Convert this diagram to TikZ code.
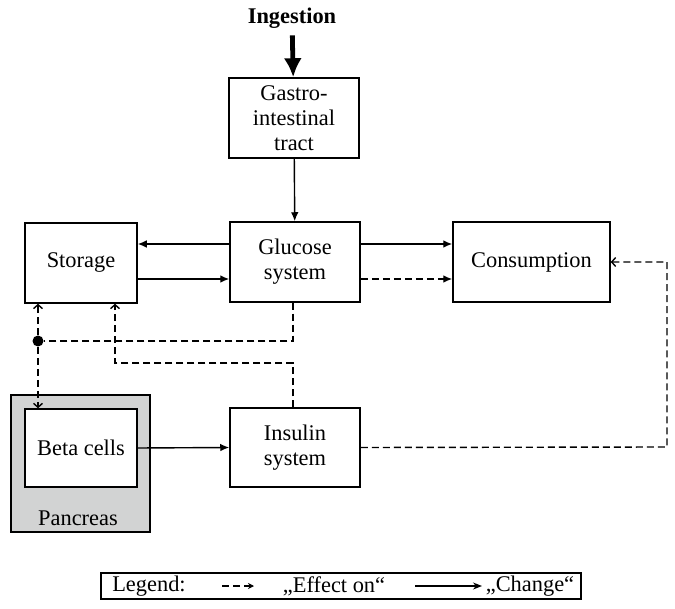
\documentclass[tikz,border=0pt]{standalone}
\usepackage{fontspec}
\setmainfont{Liberation Serif}
\usetikzlibrary{arrows.meta}
\definecolor{pancreasgray}{RGB}{210,211,211}
\tikzset{>={Latex[length=4.5pt,width=3.8pt]}}

\begin{document}
\begin{tikzpicture}[
    x=0.5pt, y=-0.5pt,
    every node/.style={font=\fontsize{11.2}{12.5}\selectfont, align=center},
    box/.style={draw, line width=0.75pt, inner sep=0pt, fill=white},
    change/.style={->, line width=0.7pt},
    effect/.style={line width=0.7pt, dash pattern=on 3.5pt off 2pt},
    effectto/.style={effect, -{Straight Barb[length=2pt,width=4.5pt]}}
]
    \useasboundingbox (0,0) rectangle (675,609);

    % Nodes
    \node (Ingestion) at (292,18) {\textbf{Ingestion}};
    \node[box, minimum width=65pt, minimum height=40pt] (Gastro) at (294,118) {Gastro-\\intestinal\\tract};
    \node[box, minimum width=65pt, minimum height=40pt] (Glucose) at (295,262) {Glucose\\system};
    \node[box, minimum width=56pt, minimum height=40pt] (Storage) at (81,263) {Storage};
    \node[box, minimum width=78.5pt, minimum height=40pt] (Consumption) at (531.5,262) {Consumption};
    \node[box, minimum width=69.5pt, minimum height=68.5pt, fill=pancreasgray] (Pancreas) at (80.5,463.5) {};
    \node (PancreasLabel) at (78,518) {Pancreas};
    \node[box, minimum width=56pt, minimum height=39pt] (Beta) at (81,448) {Beta cells};
    \node[box, minimum width=65pt, minimum height=39.5pt] (Insulin) at (295,447.5) {Insulin\\system};
    \node[fill=black, circle, inner sep=0pt, minimum size=5.5pt] (Junction) at (38,341) {};

    % Legend
    \node[box, minimum width=240pt, minimum height=13pt] (Legend) at (341,586) {};
    \node (LegendLabel) at (149,586) {Legend:};
    \node (EffectLabel) at (334,586) {„Effect on“};
    \node (ChangeLabel) at (530,586) {„Change“};
    \coordinate (EffectStart) at (222,586);
    \coordinate (EffectEnd) at (254,586);
    \coordinate (ChangeStart) at (415,586);
    \coordinate (ChangeEnd) at (482,586);

    % Turning points
    \coordinate (InsulinTurn) at (293,363);
    \coordinate (RightTurn) at (667,447);

    % Arrows
    \draw[-{Latex[length=9.5pt,width=9pt]}, line width=2.4pt] (Ingestion) -- (Gastro);
    \draw[change] (Gastro) -- (Glucose);
    \draw[change] ([yshift=9pt]Glucose.west) -- ([yshift=9pt]Glucose.west -| Storage.east);
    \draw[change] ([yshift=-8pt]Storage.east) -- ([yshift=-8pt]Storage.east -| Glucose.west);
    \draw[change] ([yshift=9pt]Glucose.east) -- ([yshift=9pt]Glucose.east -| Consumption.west);
    \draw[effect, ->] ([yshift=-8.5pt]Glucose.east) -- ([yshift=-8.5pt]Glucose.east -| Consumption.west);
    \draw[change] (Beta.east) -- (Insulin.west);
    \draw[effect] ([xshift=-1pt]Glucose.south) |- (Junction);
    \draw[effectto] (Junction) -- (Junction |- Storage.south);
    \draw[effectto] (Junction) -- (Junction |- Beta.north);
    \draw[effectto] (InsulinTurn |- Insulin.north) -- (InsulinTurn) -| ([xshift=17pt]Storage.south);
    \draw[effectto] (Insulin.east) -- (RightTurn) |- (Consumption.east);

    % Legend arrows
    \draw[effect, -{Stealth[length=3pt,width=3pt]}] (EffectStart) -- (EffectEnd);
    \draw[line width=0.7pt, -{Stealth[length=4.5pt,width=3.5pt]}] (ChangeStart) -- (ChangeEnd);
\end{tikzpicture}
\end{document}
